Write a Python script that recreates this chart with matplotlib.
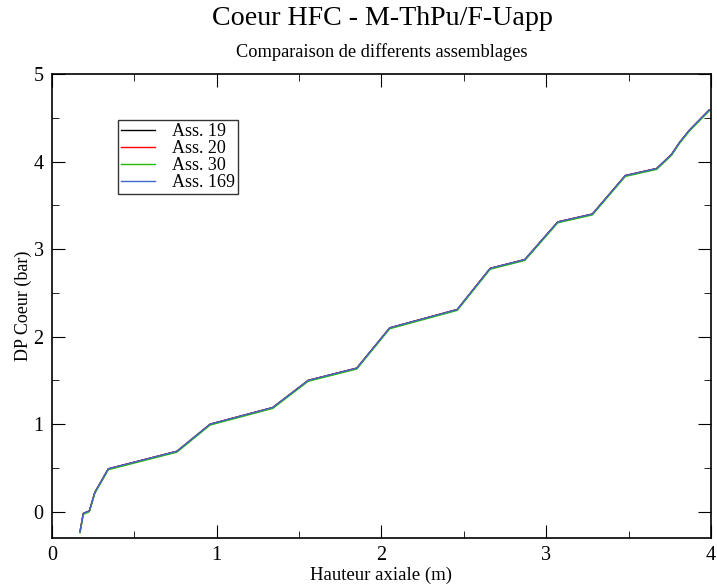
import numpy as np
import matplotlib.pyplot as plt
from matplotlib.ticker import MultipleLocator

plt.rcParams['font.family'] = ['Liberation Serif', 'DejaVu Serif']

# hauteur axiale (m) et DP coeur (bar)
x = [0.17, 0.19, 0.227, 0.26, 0.342, 0.758, 0.96, 1.34, 1.555, 1.85,
     2.05, 2.46, 2.66, 2.87, 3.07, 3.28, 3.48, 3.67, 3.76, 3.81, 3.87, 3.99]
dp19 = [-0.23, -0.02, 0.01, 0.22, 0.49, 0.69, 1.00, 1.19, 1.50, 1.64,
        2.10, 2.31, 2.78, 2.88, 3.31, 3.40, 3.84, 3.92, 4.08, 4.22, 4.36, 4.59]
dp20 = [-0.23, -0.02, 0.01, 0.22, 0.49, 0.69, 1.00, 1.19, 1.50, 1.64,
        2.10, 2.31, 2.78, 2.88, 3.31, 3.40, 3.84, 3.92, 4.08, 4.22, 4.36, 4.59]
dp30 = [-0.24, -0.03, 0.00, 0.21, 0.48, 0.68, 0.99, 1.18, 1.49, 1.63,
        2.09, 2.30, 2.77, 2.87, 3.30, 3.39, 3.83, 3.91, 4.07, 4.21, 4.35, 4.58]
dp169 = [-0.23, -0.02, 0.01, 0.22, 0.49, 0.69, 1.00, 1.19, 1.50, 1.64,
         2.10, 2.31, 2.78, 2.88, 3.31, 3.40, 3.84, 3.92, 4.08, 4.22, 4.36, 4.59]

fig = plt.figure(figsize=(7.17, 5.84), dpi=100)
ax = fig.add_axes([0.0725, 0.0788, 0.9191, 0.7945])

ax.plot(x, dp19, color='black', lw=1, label='Ass. 19')
ax.plot(x, dp20, color='red', lw=1, label='Ass. 20')
ax.plot(x, dp30, color='#22bb00', lw=1, label='Ass. 30')
ax.plot(x, dp169, color='#4466cc', lw=1, label='Ass. 169')

ax.set_xlim(0, 4)
ax.set_ylim(-0.3, 5)
ax.xaxis.set_major_locator(MultipleLocator(1))
ax.xaxis.set_minor_locator(MultipleLocator(0.5))
ax.yaxis.set_major_locator(MultipleLocator(1))
ax.yaxis.set_minor_locator(MultipleLocator(0.5))
ax.tick_params(which='both', direction='in', top=True, right=True, labelsize=14.5)
ax.tick_params(which='major', length=9.5, pad=6)
ax.tick_params(which='minor', length=5)
for s in ax.spines.values():
    s.set_linewidth(1.2)

ax.set_xlabel('Hauteur axiale (m)', fontsize=13.5, labelpad=1)
ax.set_ylabel('DP Coeur (bar)', fontsize=13, labelpad=1)

fig.text(0.533, 0.969, 'Coeur HFC - M-ThPu/F-Uapp', fontsize=20.2, ha='center', va='center')
fig.text(0.533, 0.911, 'Comparaison de differents assemblages', fontsize=13.2, ha='center', va='center')

leg = ax.legend(loc='upper left', bbox_to_anchor=(0.1, 0.9), fontsize=13,
                frameon=True, fancybox=False, edgecolor='black', borderpad=0.15,
                handlelength=1.9, handletextpad=0.95, labelspacing=0.0, borderaxespad=0)
leg.get_frame().set_linewidth(1)

fig.savefig('out.png', dpi=100)
